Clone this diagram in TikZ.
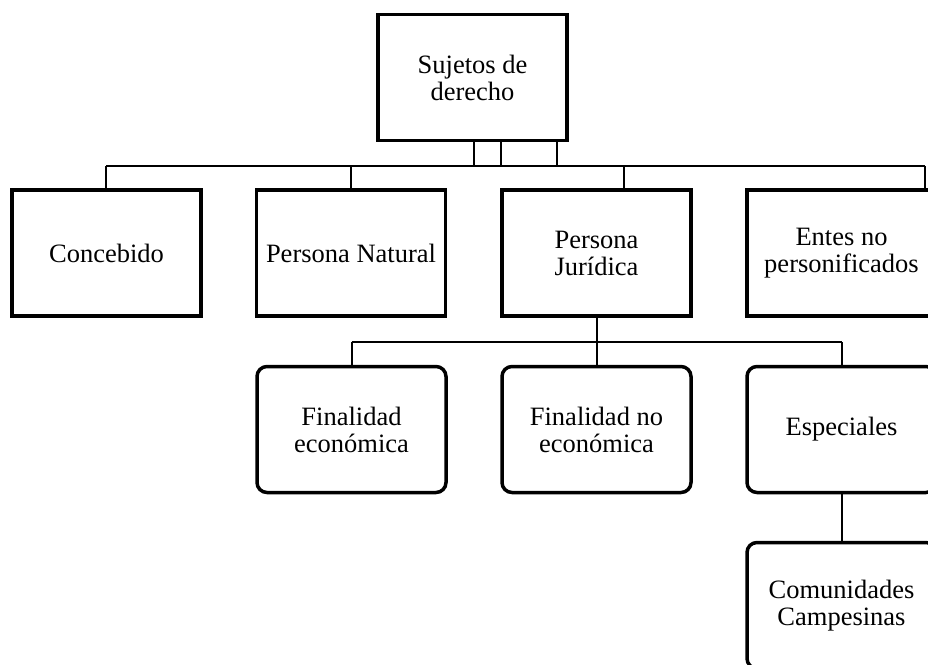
\documentclass[tikz,border=0pt]{standalone}
\usepackage{fontspec}
\setmainfont{Liberation Serif}
\begin{document}
\begin{tikzpicture}[x=1pt,y=-1pt,
  box/.style={draw, line width=3.5pt, minimum width=189pt, minimum height=126pt,
    inner sep=2pt, align=center, font=\fontsize{26.5}{27}\selectfont},
  rbox/.style={box, rounded corners=10pt},
  conn/.style={line width=2pt}]
\fill[white] (0,0) rectangle (928,664);
\clip (0,0) rectangle (928,664);
\useasboundingbox (0,0) rectangle (928,664);

% top
\node[box] (top) at (472.5,77.5) {Sujetos de\\derecho};
% row 1
\node[box] (conc) at (106.5,253) {Concebido};
\node[box] (nat) at (351,253) {Persona Natural};
\node[box] (jur) at (596.5,253) {Persona\\Jurídica};
\node[box] (entes) at (841.5,253) {Entes no\\personificados};
% row 2
\node[rbox] (fe) at (351.5,429.5) {Finalidad\\económica};
\node[rbox] (fne) at (596.5,429.5) {Finalidad no\\económica};
\node[rbox] (esp) at (841.5,429.5) {Especiales};
% row 3
\node[rbox] (com) at (841.5,605.5) {Comunidades\\Campesinas};

% bus coordinates
\coordinate (b1) at (474,166);
\coordinate (b2) at (501,166);
\coordinate (b3) at (557,166);
\coordinate (bc) at (106,166);
\coordinate (bn) at (351,166);
\coordinate (bj) at (624,166);
\coordinate (be) at (925,166);
\coordinate (m) at (596.5,342);
\coordinate (mfe) at (351.5,342);
\coordinate (mesp) at (841.5,342);

\draw[conn] (bc) -- (be);
\draw[conn] (top.south -| b1) -- (b1);
\draw[conn] (top.south -| b2) -- (b2);
\draw[conn] (top.south -| b3) -- (b3);
\draw[conn] (bc) -- (conc.north -| bc);
\draw[conn] (bn) -- (nat.north -| bn);
\draw[conn] (bj) -- (jur.north -| bj);
\draw[conn] (be) -- (entes.north -| be);

\draw[conn] (jur.south) -- (m);
\draw[conn] (mfe) -- (mesp);
\draw[conn] (mfe) -- (fe.north);
\draw[conn] (m) -- (fne.north);
\draw[conn] (mesp) -- (esp.north);
\draw[conn] (esp.south) -- (com.north);
\end{tikzpicture}
\end{document}
